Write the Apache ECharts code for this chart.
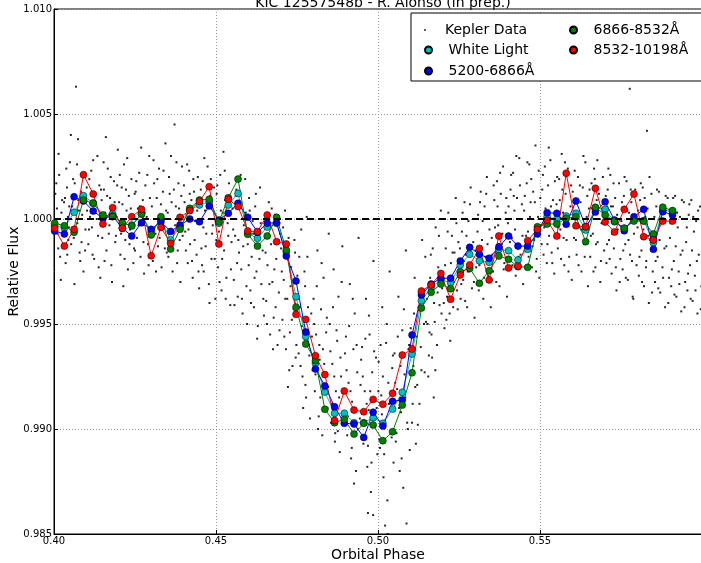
<!DOCTYPE html>
<html>
<head>
<meta charset="utf-8">
<script src="https://cdn.jsdelivr.net/npm/echarts@6/dist/echarts.min.js"></script>
<style>
  html, body { margin: 0; padding: 0; background: #fff; }
  #chart { width: 701px; height: 563px; }
</style>
</head>
<body>
<div id="chart"></div>
<script>
// bin centres of the coloured light curves (orbital phase)
const phase = [0.4002,0.4032,0.4062,0.4091,0.4121,0.4151,0.4181,0.4211,0.4240,0.4270,
  0.4300,0.4330,0.4360,0.4389,0.4419,0.4449,0.4479,0.4509,0.4538,0.4568,
  0.4598,0.4628,0.4658,0.4687,0.4717,0.4747,0.4777,0.4807,0.4836,0.4866,
  0.4896,0.4926,0.4956,0.4985,0.5015,0.5045,0.5075,0.5105,0.5134,0.5164,
  0.5194,0.5224,0.5254,0.5283,0.5313,0.5343,0.5373,0.5403,0.5432,0.5462,
  0.5492,0.5522,0.5552,0.5581,0.5611,0.5641,0.5671,0.5701,0.5730,0.5760,
  0.5790,0.5820,0.5850,0.5879,0.5909];

const whiteLight = [0.99967,0.99957,1.00032,1.00111,1.00076,1.00010,1.00024,0.99976,0.99971,1.00024,
  0.99938,0.99999,0.99900,0.99963,1.00043,1.00067,1.00082,0.99980,1.00067,1.00122,
  0.99932,0.99908,0.99962,0.99980,0.99843,0.99630,0.99440,0.99313,0.99176,0.99075,
  0.99075,0.99030,0.99030,0.99054,0.99027,0.99095,0.99175,0.99357,0.99611,0.99675,
  0.99710,0.99697,0.99781,0.99832,0.99801,0.99794,0.99855,0.99849,0.99805,0.99856,
  0.99948,1.00011,0.99999,1.00014,1.00027,0.99948,1.00052,1.00046,0.99987,0.99956,
  0.99995,0.99992,0.99887,1.00043,1.00035];

const band5200 = [0.99943,0.99929,1.00106,1.00086,1.00038,1.00003,1.00014,0.99956,0.99919,0.99982,
  0.99951,0.99987,0.99941,0.99971,1.00000,0.99987,1.00062,0.99995,1.00027,1.00075,
  1.00008,0.99937,0.99980,0.99982,0.99824,0.99705,0.99462,0.99286,0.99205,0.99106,
  0.99027,0.99024,0.98960,0.99080,0.99014,0.99132,0.99138,0.99448,0.99638,0.99690,
  0.99718,0.99718,0.99800,0.99865,0.99832,0.99813,0.99867,0.99919,0.99871,0.99871,
  0.99929,1.00030,1.00027,0.99975,1.00086,0.99963,1.00033,1.00082,0.99995,0.99944,
  1.00011,1.00046,0.99856,1.00035,1.00019];

const band6866 = [0.99980,0.99968,0.99937,1.00090,1.00075,1.00019,1.00011,0.99982,0.99967,1.00024,
  0.99924,1.00011,0.99857,0.99951,1.00051,1.00090,1.00094,0.99987,1.00101,1.00190,
  0.99927,0.99871,0.99919,1.00008,0.99852,0.99580,0.99405,0.99325,0.99094,0.99030,
  0.99046,0.98976,0.99027,0.99019,0.98944,0.98987,0.99114,0.99268,0.99576,0.99651,
  0.99690,0.99668,0.99749,0.99765,0.99694,0.99754,0.99824,0.99808,0.99773,0.99770,
  0.99963,0.99976,0.99976,1.00003,1.00011,0.99892,1.00056,1.00019,0.99990,0.99956,
  0.99990,0.99990,0.99929,1.00056,1.00040];

const band8532 = [0.99956,0.99871,0.99951,1.00211,1.00119,0.99976,1.00054,0.99956,1.00011,1.00046,
  0.99825,0.99960,0.99884,1.00008,1.00040,1.00084,1.00154,0.99881,1.00094,1.00059,
  0.99943,0.99940,1.00019,0.99892,0.99881,0.99546,0.99522,0.99349,0.99259,0.99040,
  0.99181,0.99090,0.99082,0.99141,0.99118,0.99170,0.99352,0.99381,0.99657,0.99686,
  0.99741,0.99618,0.99733,0.99781,0.99860,0.99710,0.99919,0.99767,0.99776,0.99897,
  0.99951,0.99995,0.99919,1.00218,0.99968,0.99963,1.00146,0.99986,0.99938,1.00046,
  1.00119,0.99916,0.99900,0.99990,0.99990];

// individual Kepler measurements [phase, flux]
const keplerA = [
  [0.4004,1.0012],[0.4011,0.9993],[0.4016,1.0021],[0.4023,1.0003],[0.4027,0.9987],[0.4031,1.0008],[0.4036,0.9979],[0.4040,1.0015],[0.4043,1.0001],[0.4046,0.9996],[0.4049,1.0027],[0.4009,1.0005],[0.4019,0.9982],[0.4034,1.0010],[0.4044,0.9990],
  [0.4052,1.0040],[0.4056,1.0006],[0.4061,0.9991],[0.4064,1.0017],[0.4068,1.0063],[0.4072,0.9998],[0.4075,1.0009],[0.4079,0.9984],[0.4083,1.0013],[0.4087,1.0002],[0.4091,0.9975],[0.4094,1.0022],[0.4097,0.9995],[0.4058,1.0011],[0.4085,0.9989],
  [0.4102,1.0004],[0.4106,0.9988],[0.4109,1.0019],[0.4113,1.0007],[0.4117,0.9996],[0.4121,1.0028],[0.4124,0.9981],[0.4128,1.0012],[0.4132,1.0000],[0.4136,0.9992],[0.4140,1.0016],[0.4143,0.9972],[0.4147,1.0009],
  [0.4151,0.9997],[0.4154,1.0014],[0.4158,1.0003],[0.4162,0.9985],[0.4166,1.0024],[0.4169,0.9993],[0.4173,1.0010],[0.4177,0.9978],[0.4181,1.0006],[0.4185,1.0018],[0.4189,0.9989],[0.4193,1.0001],[0.4197,1.0033],
  [0.4201,1.0008],[0.4205,0.9983],[0.4209,1.0015],[0.4212,0.9999],[0.4216,1.0026],[0.4220,0.9990],[0.4224,1.0004],[0.4228,0.9976],[0.4231,1.0011],[0.4235,0.9995],[0.4239,1.0019],[0.4243,1.0002],[0.4247,0.9986],[0.4214,0.9968],
  [0.4252,1.0013],[0.4256,0.9991],[0.4259,1.0005],[0.4263,1.0022],[0.4267,0.9982],[0.4271,0.9998],[0.4274,1.0009],[0.4278,0.9974],[0.4282,1.0016],[0.4286,1.0001],[0.4290,0.9988],[0.4294,1.0030],[0.4298,0.9994],
  [0.4302,1.0006],[0.4305,0.9980],[0.4309,1.0017],[0.4313,0.9993],[0.4317,1.0010],[0.4321,0.9987],[0.4324,1.0024],[0.4328,1.0002],[0.4332,0.9977],[0.4336,1.0013],[0.4340,0.9996],[0.4344,1.0036],[0.4348,0.9984],
  [0.4351,1.0003],[0.4355,1.0020],[0.4359,0.9989],[0.4363,1.0008],[0.4366,0.9975],[0.4370,1.0014],[0.4374,0.9997],[0.4378,1.0027],[0.4382,0.9985],[0.4386,1.0005],[0.4390,0.9970],[0.4393,1.0011],[0.4397,0.9992],[0.4372,1.0045],
  [0.4401,1.0016],[0.4405,0.9994],[0.4409,1.0002],[0.4413,0.9979],[0.4417,1.0023],[0.4420,0.9988],[0.4424,1.0009],[0.4428,0.9972],[0.4432,1.0013],[0.4436,0.9999],[0.4440,0.9983],[0.4444,1.0020],[0.4448,0.9967],
  [0.4451,1.0007],[0.4455,0.9986],[0.4459,1.0018],[0.4462,0.9975],[0.4466,1.0004],[0.4470,0.9993],[0.4474,1.0025],[0.4478,0.9969],[0.4482,1.0011],[0.4486,0.9981],[0.4490,0.9997],[0.4494,1.0015],[0.4498,0.9962],
  [0.4502,1.0012],[0.4506,0.9977],[0.4509,0.9994],[0.4513,1.0021],[0.4517,0.9966],[0.4521,1.0003],[0.4525,0.9985],[0.4528,1.0009],[0.4532,0.9972],[0.4536,0.9998],[0.4540,1.0017],[0.4544,0.9959],[0.4548,0.9989],[0.4523,1.0032],
  [0.4551,1.0005],[0.4555,0.9971],[0.4559,0.9992],[0.4563,1.0014],[0.4567,0.9963],[0.4571,0.9984],[0.4574,1.0008],[0.4578,0.9976],[0.4582,0.9955],[0.4586,0.9997],[0.4590,1.0019],[0.4594,0.9968],[0.4598,0.9988],
  [0.4602,1.0010],[0.4606,0.9966],[0.4610,0.9982],[0.4613,0.9999],[0.4617,0.9958],[0.4621,1.0006],[0.4625,0.9975],[0.4629,0.9949],[0.4632,0.9990],[0.4636,1.0015],[0.4640,0.9969],[0.4644,0.9985],[0.4648,0.9954],
  [0.4651,0.9996],[0.4655,0.9961],[0.4659,0.9978],[0.4663,1.0008],[0.4667,0.9945],[0.4670,0.9988],[0.4674,0.9970],[0.4678,0.9953],[0.4682,1.0002],[0.4686,0.9981],[0.4690,0.9940],[0.4694,0.9965],[0.4698,0.9993],
  [0.4701,0.9986],[0.4705,0.9952],[0.4709,0.9971],[0.4713,1.0004],[0.4716,0.9938],[0.4720,0.9962],[0.4724,0.9991],[0.4728,0.9946],[0.4732,0.9977],[0.4736,0.9930],[0.4740,0.9957],[0.4744,0.9984],[0.4748,0.9940],[0.4722,0.9920],
  [0.4751,0.9973],[0.4755,0.9936],[0.4759,0.9958],[0.4763,0.9995],[0.4767,0.9925],[0.4771,0.9947],[0.4775,0.9968],[0.4778,0.9915],[0.4782,0.9982],[0.4786,0.9940],[0.4790,0.9905],[0.4794,0.9955],[0.4798,0.9928],[0.4780,1.0001],
  [0.4801,0.9962],[0.4805,0.9918],[0.4809,0.9945],[0.4813,0.9985],[0.4817,0.9906],[0.4820,0.9933],[0.4824,0.9957],[0.4828,0.9897],[0.4832,0.9972],[0.4836,0.9925],[0.4840,0.9946],[0.4844,0.9910],[0.4848,0.9993],[0.4830,0.9938],
  [0.4851,0.9950],[0.4855,0.9903],[0.4859,0.9931],[0.4863,0.9976],[0.4867,0.9894],[0.4870,0.9918],[0.4874,0.9942],[0.4878,0.9963],[0.4882,0.9889],[0.4886,0.9925],[0.4890,0.9987],[0.4894,0.9908],[0.4898,0.9936],[0.4876,0.9899],
  [0.4901,0.9944],[0.4905,0.9897],[0.4909,0.9922],[0.4913,0.9969],[0.4917,0.9886],[0.4920,0.9913],[0.4924,0.9938],[0.4928,0.9955],[0.4932,0.9880],[0.4936,0.9927],[0.4940,0.9991],[0.4944,0.9905],[0.4948,0.9933],[0.4926,0.9874],
  [0.4951,0.9939],[0.4955,0.9893],[0.4959,0.9918],[0.4963,0.9962],[0.4967,0.9882],[0.4971,0.9909],[0.4974,0.9945],[0.4978,0.9870],[0.4982,0.9927],[0.4986,0.9980],[0.4990,0.9901],[0.4994,0.9934],[0.4998,0.9888],[0.4969,0.9860],[0.4985,0.9859],
  [0.5002,0.9932],[0.5006,0.9891],[0.5010,0.9916],[0.5013,0.9958],[0.5017,0.9877],[0.5021,0.9904],[0.5025,0.9941],[0.5029,0.9866],[0.5032,0.9922],[0.5036,0.9975],[0.5040,0.9898],[0.5044,0.9929],[0.5048,0.9884],[0.5030,0.9850],[0.5022,0.9854],
  [0.5051,0.9936],[0.5055,0.9894],[0.5059,0.9919],[0.5063,0.9963],[0.5067,0.9880],[0.5071,0.9908],[0.5075,0.9947],[0.5078,0.9872],[0.5082,0.9926],[0.5086,0.9985],[0.5090,0.9903],[0.5094,0.9938],[0.5098,0.9890],[0.5088,0.9855],[0.5089,0.9849],
  [0.5101,0.9948],[0.5105,0.9903],[0.5109,0.9930],[0.5113,0.9972],[0.5117,0.9893],[0.5121,0.9921],[0.5125,0.9958],[0.5128,0.9912],[0.5132,0.9939],[0.5136,0.9990],[0.5140,0.9966],[0.5144,0.9927],[0.5148,0.9951],
  [0.5151,0.9962],[0.5155,0.9925],[0.5159,0.9946],[0.5163,0.9983],[0.5167,0.9934],[0.5171,0.9970],[0.5175,0.9951],[0.5178,0.9996],[0.5182,0.9940],[0.5186,0.9977],[0.5190,0.9959],[0.5194,1.0004],[0.5198,0.9967],[0.5172,0.9915],
  [0.5201,0.9972],[0.5205,0.9948],[0.5209,0.9986],[0.5213,0.9963],[0.5217,1.0003],[0.5221,0.9955],[0.5225,0.9979],[0.5228,0.9992],[0.5232,0.9958],[0.5236,0.9984],[0.5240,1.0010],[0.5244,0.9966],[0.5248,0.9989],
  [0.5251,0.9978],[0.5255,0.9962],[0.5259,0.9994],[0.5263,0.9971],[0.5267,1.0008],[0.5271,0.9983],[0.5275,0.9958],[0.5279,0.9999],[0.5282,0.9975],[0.5286,1.0015],[0.5290,0.9967],[0.5294,0.9989],[0.5298,0.9953],
  [0.5301,0.9985],[0.5305,0.9969],[0.5309,1.0002],[0.5313,0.9978],[0.5317,1.0013],[0.5321,0.9990],[0.5325,0.9962],[0.5329,1.0006],[0.5332,0.9982],[0.5336,1.0020],[0.5340,0.9973],[0.5344,0.9995],[0.5348,0.9958],
  [0.5351,0.9991],[0.5355,0.9975],[0.5359,1.0009],[0.5363,0.9984],[0.5367,1.0018],[0.5371,0.9997],[0.5375,0.9968],[0.5379,1.0012],[0.5382,0.9988],[0.5386,1.0025],[0.5390,0.9979],[0.5394,1.0003],[0.5398,0.9963],
  [0.5401,0.9998],[0.5405,0.9980],[0.5409,1.0014],[0.5413,0.9991],[0.5417,1.0022],[0.5421,1.0004],[0.5425,0.9973],[0.5429,1.0010],[0.5432,0.9986],[0.5436,1.0029],[0.5440,0.9983],[0.5444,1.0007],[0.5448,0.9969],
  [0.5451,1.0004],[0.5455,0.9985],[0.5459,1.0017],[0.5463,0.9994],[0.5467,1.0026],[0.5471,1.0008],[0.5475,0.9977],[0.5479,1.0013],[0.5482,0.9990],[0.5486,1.0035],[0.5490,0.9981],[0.5494,1.0001],[0.5498,0.9972],
  [0.5501,1.0010],[0.5505,0.9988],[0.5509,1.0021],[0.5513,0.9996],[0.5517,1.0005],[0.5521,0.9979],[0.5525,1.0016],[0.5528,0.9992],[0.5532,1.0028],[0.5536,0.9984],[0.5540,1.0009],[0.5544,0.9974],[0.5548,1.0002],
  [0.5551,1.0007],[0.5555,0.9986],[0.5559,1.0019],[0.5563,0.9995],[0.5567,1.0031],[0.5571,1.0003],[0.5575,0.9978],[0.5579,1.0012],[0.5582,0.9990],[0.5586,1.0024],[0.5590,0.9982],[0.5594,1.0006],[0.5598,0.9971],
  [0.5601,1.0013],[0.5605,0.9991],[0.5609,1.0002],[0.5613,0.9983],[0.5617,1.0020],[0.5621,0.9996],[0.5625,1.0008],[0.5628,0.9975],[0.5632,1.0015],[0.5636,0.9988],[0.5640,1.0027],[0.5644,1.0001],[0.5648,0.9968],
  [0.5651,1.0005],[0.5655,0.9982],[0.5659,1.0017],[0.5663,0.9993],[0.5667,1.0024],[0.5671,0.9977],[0.5675,1.0009],[0.5678,0.9989],[0.5682,1.0012],[0.5686,0.9970],[0.5690,0.9998],[0.5694,1.0020],[0.5698,0.9985],
  [0.5701,1.0003],[0.5705,0.9979],[0.5709,1.0014],[0.5713,0.9990],[0.5717,1.0021],[0.5721,0.9974],[0.5725,1.0006],[0.5728,0.9986],[0.5732,1.0010],[0.5736,0.9966],[0.5740,0.9995],[0.5744,1.0017],[0.5748,0.9981],
  [0.5751,0.9999],[0.5755,0.9976],[0.5759,1.0011],[0.5763,0.9988],[0.5767,1.0018],[0.5771,0.9971],[0.5775,1.0003],[0.5778,0.9983],[0.5782,1.0008],[0.5786,0.9963],[0.5790,0.9993],[0.5794,1.0014],[0.5798,0.9978],[0.5777,1.0062],
  [0.5801,0.9996],[0.5805,0.9973],[0.5809,1.0009],[0.5813,0.9985],[0.5817,1.0015],[0.5821,0.9968],[0.5825,1.0001],[0.5828,0.9980],[0.5832,1.0005],[0.5836,0.9960],[0.5840,0.9990],[0.5844,1.0012],[0.5848,0.9975],[0.5830,1.0042],
  [0.5851,0.9993],[0.5855,0.9970],[0.5859,1.0006],[0.5863,0.9982],[0.5867,1.0013],[0.5871,0.9965],[0.5875,0.9998],[0.5878,0.9977],[0.5882,1.0003],[0.5886,0.9958],[0.5890,0.9987],[0.5894,1.0010],[0.5898,0.9972],
  [0.5901,0.9991],[0.5905,0.9968],[0.5909,1.0004],[0.5913,0.9980],[0.5917,1.0011],[0.5921,0.9963],[0.5925,0.9996],[0.5928,0.9975],[0.5932,1.0001],[0.5936,0.9956],[0.5940,0.9985],[0.5944,1.0008],[0.5948,0.9970],
  [0.5951,0.9989],[0.5955,0.9966],[0.5959,1.0002],[0.5963,0.9978],[0.5967,1.0009],[0.5971,0.9961],[0.5975,0.9994],[0.5978,0.9973],[0.5982,0.9999],[0.5986,0.9955],[0.5990,0.9983],[0.5994,1.0006],[0.5998,0.9968]
];

const keplerB = [
  [0.4001,0.9999],[0.4007,1.0017],[0.4013,0.9986],[0.4025,1.0009],[0.4029,0.9994],[0.4038,1.0024],[0.4047,1.0006],[0.4021,0.9971],[0.4041,0.9983],[0.4014,1.0031],
  [0.4053,0.9988],[0.4059,1.0019],[0.4066,0.9996],[0.4071,1.0026],[0.4077,1.0004],[0.4081,0.9980],[0.4089,1.0012],[0.4096,0.9985],[0.4063,0.9969],[0.4074,1.0038],
  [0.4101,1.0015],[0.4108,0.9995],[0.4115,1.0023],[0.4119,0.9983],[0.4126,1.0003],[0.4134,1.0030],[0.4138,0.9977],[0.4145,1.0014],[0.4111,1.0001],[0.4149,0.9991],
  [0.4153,1.0027],[0.4156,0.9980],[0.4164,1.0011],[0.4171,0.9997],[0.4175,1.0020],[0.4179,0.9970],[0.4187,1.0008],[0.4191,0.9992],[0.4195,1.0016],[0.4160,1.0039],
  [0.4203,1.0021],[0.4207,0.9993],[0.4211,1.0007],[0.4218,0.9981],[0.4222,1.0014],[0.4226,1.0029],[0.4233,0.9988],[0.4237,1.0005],[0.4245,0.9979],[0.4249,1.0012],
  [0.4250,0.9985],[0.4254,1.0018],[0.4261,0.9997],[0.4265,1.0006],[0.4269,1.0034],[0.4276,0.9989],[0.4280,1.0003],[0.4288,1.0021],[0.4292,0.9978],[0.4296,1.0010],
  [0.4301,0.9992],[0.4307,1.0028],[0.4311,1.0000],[0.4315,0.9975],[0.4319,1.0019],[0.4326,0.9991],[0.4330,1.0007],[0.4338,1.0023],[0.4342,0.9986],[0.4346,1.0004],
  [0.4353,0.9982],[0.4357,1.0012],[0.4361,1.0030],[0.4368,0.9994],[0.4376,1.0006],[0.4380,0.9979],[0.4384,1.0017],[0.4388,0.9990],[0.4395,1.0025],[0.4399,1.0001],
  [0.4403,1.0008],[0.4407,0.9985],[0.4411,1.0026],[0.4415,0.9995],[0.4419,1.0012],[0.4426,0.9980],[0.4430,1.0019],[0.4434,0.9990],[0.4442,1.0004],[0.4446,0.9975],
  [0.4453,1.0014],[0.4457,0.9978],[0.4461,0.9996],[0.4464,1.0029],[0.4468,0.9987],[0.4476,1.0006],[0.4480,0.9960],[0.4484,1.0019],[0.4488,0.9993],[0.4496,0.9981],
  [0.4501,0.9990],[0.4504,1.0016],[0.4511,0.9970],[0.4515,1.0004],[0.4519,0.9981],[0.4527,1.0023],[0.4530,0.9962],[0.4534,1.0008],[0.4538,0.9992],[0.4546,0.9976],
  [0.4553,0.9995],[0.4557,0.9959],[0.4561,1.0011],[0.4565,0.9979],[0.4569,0.9990],[0.4576,1.0021],[0.4580,0.9962],[0.4584,0.9987],[0.4592,1.0003],[0.4596,0.9950],
  [0.4601,0.9978],[0.4604,1.0004],[0.4608,0.9960],[0.4615,0.9993],[0.4619,0.9972],[0.4623,1.0012],[0.4627,0.9943],[0.4634,0.9981],[0.4638,0.9998],[0.4646,0.9962],
  [0.4653,0.9984],[0.4657,0.9950],[0.4661,0.9996],[0.4665,0.9969],[0.4672,1.0005],[0.4676,0.9938],[0.4680,0.9976],[0.4684,0.9958],[0.4692,0.9990],[0.4696,0.9947],
  [0.4703,0.9975],[0.4707,0.9996],[0.4711,0.9944],[0.4714,0.9962],[0.4718,0.9985],[0.4726,0.9928],[0.4730,0.9968],[0.4734,0.9952],[0.4742,0.9990],[0.4746,0.9934],
  [0.4753,0.9962],[0.4757,0.9982],[0.4761,0.9930],[0.4765,0.9949],[0.4769,0.9910],[0.4773,0.9975],[0.4776,0.9921],[0.4784,0.9958],[0.4788,0.9935],[0.4796,0.9944],
  [0.4803,0.9950],[0.4807,0.9926],[0.4811,0.9968],[0.4815,0.9900],[0.4819,0.9940],[0.4822,0.9915],[0.4826,0.9979],[0.4834,0.9931],[0.4842,0.9953],[0.4846,0.9920],
  [0.4853,0.9937],[0.4857,0.9912],[0.4861,0.9958],[0.4865,0.9925],[0.4868,0.9898],[0.4872,0.9947],[0.4880,0.9915],[0.4884,0.9934],[0.4888,0.9970],[0.4896,0.9902],
  [0.4903,0.9928],[0.4907,0.9906],[0.4911,0.9949],[0.4915,0.9918],[0.4919,0.9891],[0.4922,0.9962],[0.4930,0.9909],[0.4934,0.9940],[0.4938,0.9900],[0.4946,0.9921],
  [0.4953,0.9925],[0.4957,0.9904],[0.4961,0.9943],[0.4965,0.9912],[0.4969,0.9892],[0.4972,0.9954],[0.4976,0.9918],[0.4980,0.9884],[0.4988,0.9937],[0.4996,0.9910],
  [0.5001,0.9918],[0.5004,0.9895],[0.5008,0.9940],[0.5012,0.9907],[0.5015,0.9925],[0.5019,0.9888],[0.5027,0.9950],[0.5034,0.9912],[0.5042,0.9896],[0.5046,0.9935],
  [0.5053,0.9922],[0.5057,0.9898],[0.5061,0.9944],[0.5065,0.9910],[0.5069,0.9930],[0.5073,0.9886],[0.5080,0.9957],[0.5084,0.9915],[0.5092,0.9900],[0.5096,0.9940],
  [0.5103,0.9935],[0.5107,0.9912],[0.5111,0.9955],[0.5115,0.9920],[0.5119,0.9944],[0.5123,0.9902],[0.5126,0.9965],[0.5134,0.9928],[0.5142,0.9950],[0.5146,0.9982],
  [0.5153,0.9950],[0.5157,0.9935],[0.5161,0.9972],[0.5165,0.9945],[0.5169,0.9986],[0.5173,0.9960],[0.5177,0.9928],[0.5184,0.9965],[0.5188,0.9992],[0.5196,0.9955],
  [0.5203,0.9960],[0.5207,0.9978],[0.5211,0.9952],[0.5215,0.9994],[0.5219,0.9968],[0.5223,0.9942],[0.5230,0.9984],[0.5234,0.9970],[0.5242,0.9998],[0.5246,0.9957],
  [0.5253,0.9986],[0.5257,0.9969],[0.5261,1.0003],[0.5265,0.9980],[0.5269,0.9961],[0.5273,0.9992],[0.5277,0.9975],[0.5284,1.0007],[0.5288,0.9983],[0.5296,0.9970],
  [0.5303,0.9977],[0.5307,0.9994],[0.5311,0.9966],[0.5315,1.0008],[0.5319,0.9983],[0.5323,0.9999],[0.5327,0.9972],[0.5334,1.0012],[0.5338,0.9988],[0.5346,0.9979],
  [0.5353,0.9983],[0.5357,1.0016],[0.5361,0.9996],[0.5365,0.9970],[0.5369,1.0006],[0.5373,0.9988],[0.5377,1.0022],[0.5384,0.9993],[0.5388,0.9976],[0.5396,1.0010],
  [0.5403,1.0006],[0.5407,0.9989],[0.5411,1.0021],[0.5415,0.9978],[0.5419,1.0011],[0.5423,0.9995],[0.5427,1.0030],[0.5434,0.9982],[0.5438,1.0016],[0.5446,0.9992],
  [0.5453,1.0011],[0.5457,0.9992],[0.5461,1.0027],[0.5465,0.9982],[0.5469,1.0001],[0.5473,1.0019],[0.5477,0.9987],[0.5484,1.0008],[0.5488,0.9975],[0.5496,1.0023],
  [0.5503,0.9997],[0.5507,1.0014],[0.5511,0.9983],[0.5515,1.0025],[0.5519,1.0002],[0.5523,0.9988],[0.5527,1.0034],[0.5534,1.0006],[0.5538,0.9979],[0.5546,1.0018],
  [0.5553,1.0020],[0.5557,0.9996],[0.5561,1.0009],[0.5565,0.9981],[0.5569,1.0014],[0.5573,0.9991],[0.5577,1.0027],[0.5584,1.0001],[0.5588,0.9975],[0.5596,1.0016],
  [0.5603,1.0002],[0.5607,1.0023],[0.5611,0.9990],[0.5615,1.0009],[0.5619,0.9978],[0.5623,1.0016],[0.5627,0.9995],[0.5634,1.0030],[0.5638,0.9982],[0.5646,1.0011],
  [0.5653,1.0014],[0.5657,0.9992],[0.5661,1.0005],[0.5665,0.9975],[0.5669,1.0019],[0.5673,0.9988],[0.5677,1.0028],[0.5684,1.0000],[0.5688,0.9980],[0.5696,1.0009],
  [0.5703,1.0011],[0.5707,0.9988],[0.5711,1.0024],[0.5715,0.9981],[0.5719,1.0006],[0.5723,0.9993],[0.5727,1.0017],[0.5734,0.9977],[0.5738,1.0002],[0.5746,0.9970],
  [0.5753,1.0008],[0.5757,0.9985],[0.5761,1.0020],[0.5765,0.9972],[0.5769,1.0004],[0.5773,0.9990],[0.5780,1.0014],[0.5784,0.9980],[0.5788,0.9962],[0.5796,1.0001],
  [0.5803,1.0004],[0.5807,0.9982],[0.5811,1.0017],[0.5815,0.9970],[0.5819,0.9995],[0.5823,1.0010],[0.5827,0.9977],[0.5834,0.9992],[0.5838,1.0020],[0.5846,0.9965],
  [0.5853,1.0001],[0.5857,0.9980],[0.5861,1.0014],[0.5865,0.9967],[0.5869,0.9990],[0.5873,1.0006],[0.5880,0.9972],[0.5884,0.9986],[0.5888,1.0011],[0.5896,0.9960],
  [0.5903,0.9998],[0.5907,0.9976],[0.5911,1.0010],[0.5915,0.9964],[0.5919,0.9987],[0.5923,1.0003],[0.5930,0.9969],[0.5934,0.9983],[0.5938,1.0009],[0.5946,0.9958],
  [0.5953,0.9996],[0.5957,0.9974],[0.5961,1.0007],[0.5965,0.9962],[0.5969,0.9985],[0.5973,1.0001],[0.5980,0.9966],[0.5984,0.9980],[0.5988,1.0004],[0.5996,0.9957]
];

const baseline = 1.000;
const xTicks = { min: 0.40, max: 0.60, step: 0.05 };
const yTicks = { min: 0.985, max: 1.010, step: 0.005 };

const font = "DejaVu Sans";
const pairs = ys => phase.map((p, i) => [p, ys[i]]);

function curve(name, color, ys) {
  return {
    name: name,
    type: "line",
    data: pairs(ys),
    symbol: "circle",
    symbolSize: 7,
    lineStyle: { color: color, width: 1 },
    itemStyle: { color: color, borderColor: "#000", borderWidth: 0.5 },
    z: 3
  };
}

const legendText = { fontFamily: font, fontSize: 14, color: "#000", lineHeight: 16 };

let myChart = echarts.init(document.getElementById("chart"));
myChart.setOption({
  animation: false,
  title: {
    text: "KIC 12557548b - R. Alonso (in prep.)",
    left: 378,
    top: -9,
    textAlign: "center",
    textStyle: { fontFamily: font, fontSize: 14, fontWeight: "normal", color: "#000" }
  },
  grid: {
    left: 54, right: -1, top: 9, bottom: 29,
    outerBoundsMode: "none",
    show: true, borderColor: "#000", borderWidth: 1, backgroundColor: "#fff"
  },
  graphic: [{
    type: "rect",
    shape: { x: 411, y: 13, width: 295, height: 68 },
    style: { fill: "#fff", stroke: "#000", lineWidth: 1 },
    z: 10
  }],
  legend: [
    {
      data: [{ name: "Kepler Data", icon: "circle" }],
      left: 419, top: 17, itemWidth: 30, itemHeight: 2,
      textStyle: legendText, z: 20, selectedMode: false
    },
    {
      data: [{ name: "White Light", icon: "circle" }, { name: "5200-6866Å", icon: "circle" }],
      orient: "vertical", left: 419, top: 37, itemWidth: 30, itemHeight: 7, itemGap: 5,
      textStyle: legendText, z: 20, selectedMode: false
    },
    {
      data: [{ name: "6866-8532Å", icon: "circle" }, { name: "8532-10198Å", icon: "circle" }],
      orient: "vertical", left: 564, top: 17, itemWidth: 30, itemHeight: 7, itemGap: 4,
      textStyle: legendText, z: 20, selectedMode: false
    }
  ],
  xAxis: {
    type: "value",
    min: xTicks.min, max: xTicks.max, interval: xTicks.step,
    name: "Orbital Phase",
    nameLocation: "middle",
    nameGap: 14,
    nameMoveOverlap: false,
    nameTextStyle: { fontFamily: font, fontSize: 14, color: "#000" },
    axisLine: { lineStyle: { color: "#000" } },
    axisTick: { inside: true, length: 4, lineStyle: { color: "#000" } },
    axisLabel: {
      fontFamily: font, fontSize: 10, color: "#000", margin: 2,
      formatter: v => (v > 0.599 ? "" : v.toFixed(2))
    },
    splitLine: { show: true, lineStyle: { color: "#999", type: [1, 2], width: 1 } }
  },
  yAxis: {
    type: "value",
    min: yTicks.min, max: yTicks.max, interval: yTicks.step,
    name: "Relative Flux",
    nameLocation: "middle",
    nameGap: 33,
    nameMoveOverlap: false,
    nameTextStyle: { fontFamily: font, fontSize: 14, color: "#000" },
    axisLine: { show: true, lineStyle: { color: "#000" } },
    axisTick: { show: true, inside: true, length: 4, lineStyle: { color: "#000" } },
    axisLabel: {
      fontFamily: font, fontSize: 10, color: "#000", margin: 2,
      formatter: v => v.toFixed(3)
    },
    splitLine: { show: true, lineStyle: { color: "#999", type: [1, 2], width: 1 } }
  },
  series: [
    {
      name: "Kepler Data",
      type: "scatter",
      data: keplerA.concat(keplerB),
      symbol: "rect",
      symbolSize: 2,
      itemStyle: { color: "#000", opacity: 0.85 },
      z: 1,
      markLine: {
        silent: true,
        symbol: "none",
        label: { show: false },
        lineStyle: { color: "#000", width: 2, type: [7, 4] },
        data: [{ yAxis: baseline }]
      }
    },
    curve("White Light", "#00bfbf", whiteLight),
    curve("5200-6866Å", "#0000ff", band5200),
    curve("6866-8532Å", "#008000", band6866),
    curve("8532-10198Å", "#ff0000", band8532)
  ]
});
</script>
</body>
</html>
